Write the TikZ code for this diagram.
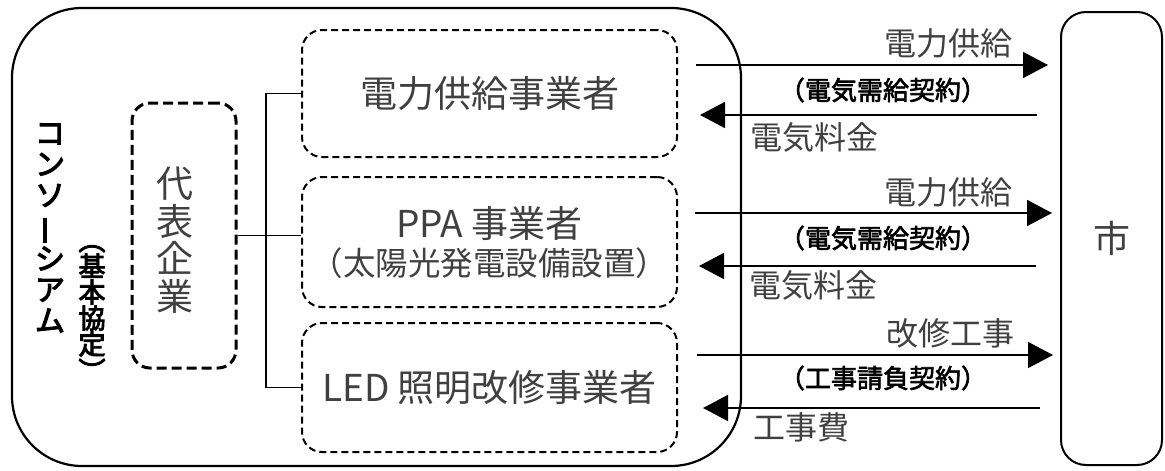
\documentclass[tikz,border=0pt]{standalone}
\usepackage{fontspec}
\usepackage{graphicx}
\newfontfamily\jp{Noto Sans CJK JP}
\newfontfamily\jpb[FakeBold=2.5]{Noto Sans CJK JP}
\newfontfamily\jpbb[FakeBold=3.5]{Noto Sans CJK JP}
\usetikzlibrary{arrows.meta}
\newcommand{\vbar}{\rotatebox[origin=c]{90}{ー}}
\newcommand{\vpl}{\rotatebox[origin=c]{-90}{（}}
\newcommand{\vpr}{\rotatebox[origin=c]{-90}{）}}
\begin{document}
\begin{tikzpicture}[x=1pt,y=-1pt,
  subbox/.style={draw, line width=2pt, dash pattern=on 7pt off 4pt, rounded corners=20pt,
    minimum width=375pt, inner sep=0pt, align=center, text=black!75,
    font=\jp\fontsize{37}{38}\selectfont},
  lbl/.style={inner sep=0pt, text=black!75, font=\jp\fontsize{32}{34}\selectfont},
  ctr/.style={inner sep=0pt, text=black, font=\jpb\fontsize{26}{28}\selectfont},
  arr/.style={line width=1.6pt, -{Triangle[length=25pt,width=26pt]}},
  conn/.style={line width=1.5pt}]
\useasboundingbox (0,0) rectangle (1165,471);
% outer consortium box
\node[draw, line width=2.2pt, rounded corners=70pt, minimum width=729pt, minimum height=458pt, inner sep=0pt] (cons) at (376.5,237) {};
% city box
\node[draw, line width=2pt, rounded corners=25pt, minimum width=101pt, minimum height=453pt, inner sep=0pt,
  text=black!75, font=\jp\fontsize{37}{38}\selectfont] (city) at (1111.5,238.5) {市};
% vertical titles
\node[inner sep=0pt, align=center, font=\jpbb\fontsize{30}{31}\selectfont] (title) at (50,228)
  {コ\\ン\\ソ\\\vbar\\シ\\ア\\ム};
\node[inner sep=0pt, align=center, font=\jpbb\fontsize{27}{26}\selectfont] (kyotei) at (92,305.5)
  {\vpl\\基\\本\\協\\定\\\vpr};
% representative company
\node[draw, line width=3pt, dash pattern=on 10pt off 5pt, rounded corners=18pt,
  minimum width=104pt, minimum height=265pt, inner sep=0pt] (dai) at (184,235.5) {};
\node[inner sep=0pt, align=center, text=black!75, font=\jp\fontsize{37}{37.5}\selectfont] (daitext) at (175,240)
  {代\\表\\企\\業};
% member boxes
\node[subbox, minimum height=127pt] (box1) at (489.5,93.5) {電力供給事業者};
\node[subbox, minimum height=130pt] (box2) at (489.5,242)
  {PPA 事業者\\{\fontsize{32.5}{38}\selectfont（太陽光発電設備設置）}};
\node[subbox, minimum height=129pt] (box3) at (489.5,387.5) {LED 照明改修事業者};
% tree connectors
\coordinate (tx) at (266,0);
\draw[conn] (dai.east) -- (dai.east -| box2.west);
\draw[conn] (box1.west) -- (box1.west -| tx) -- (box3.west -| tx) -- (box3.west);
% arrows
\coordinate (s1) at (696,65);   \coordinate (t1) at (1048,65);
\coordinate (s2) at (1037,115); \coordinate (t2) at (700,115);
\coordinate (s3) at (695,213);  \coordinate (t3) at (1052,213);
\coordinate (s4) at (1036,266); \coordinate (t4) at (699,266);
\coordinate (s5) at (697,355);  \coordinate (t5) at (1053,355);
\coordinate (s6) at (1040,408); \coordinate (t6) at (703,408);
\draw[arr] (s1) -- (t1);
\draw[arr] (s2) -- (t2);
\draw[arr] (s3) -- (t3);
\draw[arr] (s4) -- (t4);
\draw[arr] (s5) -- (t5);
\draw[arr] (s6) -- (t6);
% labels
\node[lbl, anchor=east] (l1) at (1013,43) {電力供給};
\node[ctr] (c1) at (883,90) {（電気需給契約）};
\node[lbl, anchor=west] (f1) at (750,137) {電気料金};
\node[lbl, anchor=east] (l2) at (1013,192) {電力供給};
\node[ctr] (c2) at (883,238) {（電気需給契約）};
\node[lbl, anchor=west] (f2) at (749,285) {電気料金};
\node[lbl, anchor=east] (l3) at (1015,333) {改修工事};
\node[ctr] (c3) at (883,378) {（工事請負契約）};
\node[lbl, anchor=west] (f3) at (753,427) {工事費};
\end{tikzpicture}
\end{document}
